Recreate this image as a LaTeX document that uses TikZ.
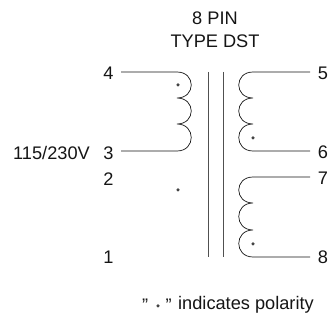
\documentclass[tikz,border=0pt]{standalone}
\usepackage{fontspec}
\setmainfont{Liberation Sans}
\definecolor{ink}{HTML}{151515}
\tikzset{
  lbl/.style={inner sep=0pt,text=ink,font=\fontsize{18.2}{18.2}\selectfont},
  wire/.style={draw=ink,line width=0.7pt},
  core/.style={draw=ink!75,line width=0.9pt},
  pol/.style={circle,fill=ink!80,inner sep=0pt,minimum size=3.5pt}
}
\begin{document}
\begin{tikzpicture}[x=1pt,y=-1pt]
\useasboundingbox (0,0) rectangle (330,320);
\node[lbl] (title1) at (215,18) {8 PIN};
\node[lbl] (title2) at (215,41) {TYPE DST};
% pin labels
\node[lbl] (p4) at (108.5,73) {4};
\node[lbl] (p3) at (108.5,153) {3};
\node[lbl] (p2) at (108.5,179) {2};
\node[lbl] (p1) at (108.5,257) {1};
\node[lbl] (p5) at (323,73) {5};
\node[lbl] (p6) at (323,152) {6};
\node[lbl] (p7) at (323,178) {7};
\node[lbl] (p8) at (323,257) {8};
\node[lbl,anchor=east] (v) at (90,153) {115/230V};
% free ends
\coordinate (a4) at (121,72);
\coordinate (a3) at (121,151);
\coordinate (a5) at (310,72);
\coordinate (a6) at (310,151);
\coordinate (a7) at (310,177);
\coordinate (a8) at (310,257);
% core
\coordinate (c1t) at (208,72); \coordinate (c1b) at (208,257);
\coordinate (c2t) at (223,72); \coordinate (c2b) at (223,257);
\draw[core] (c1t) -- (c1b);
\draw[core] (c2t) -- (c2b);
% primary
\draw[wire] (a4) -- (177,72)
  .. controls (196,72) and (196,98) .. (177,98)
  .. controls (196,98) and (196,124) .. (177,124)
  .. controls (196,124) and (196,151) .. (177,151) -- (a3);
% secondary 5-6
\draw[wire] (a5) -- (253,72)
  .. controls (234,72) and (234,98) .. (253,98)
  .. controls (234,98) and (234,124) .. (253,124)
  .. controls (234,124) and (234,151) .. (253,151) -- (a6);
% secondary 7-8
\draw[wire] (a7) -- (253,177)
  .. controls (234,177) and (234,203) .. (253,203)
  .. controls (234,203) and (234,230) .. (253,230)
  .. controls (234,230) and (234,257) .. (253,257) -- (a8);
% polarity dots
\node[pol] (d1) at (178,85) {};
\node[pol] (d2) at (178,190) {};
\node[pol] (d3) at (253,138) {};
\node[pol] (d4) at (253,244) {};
% legend
\node[lbl,anchor=west] (q1) at (142,305) {"};
\node[pol] (d5) at (158,306) {};
\node[lbl,anchor=west] (q2) at (165.5,305) {"};
\node[lbl,anchor=west] (legend) at (178,305) {indicates polarity};
\end{tikzpicture}
\end{document}
